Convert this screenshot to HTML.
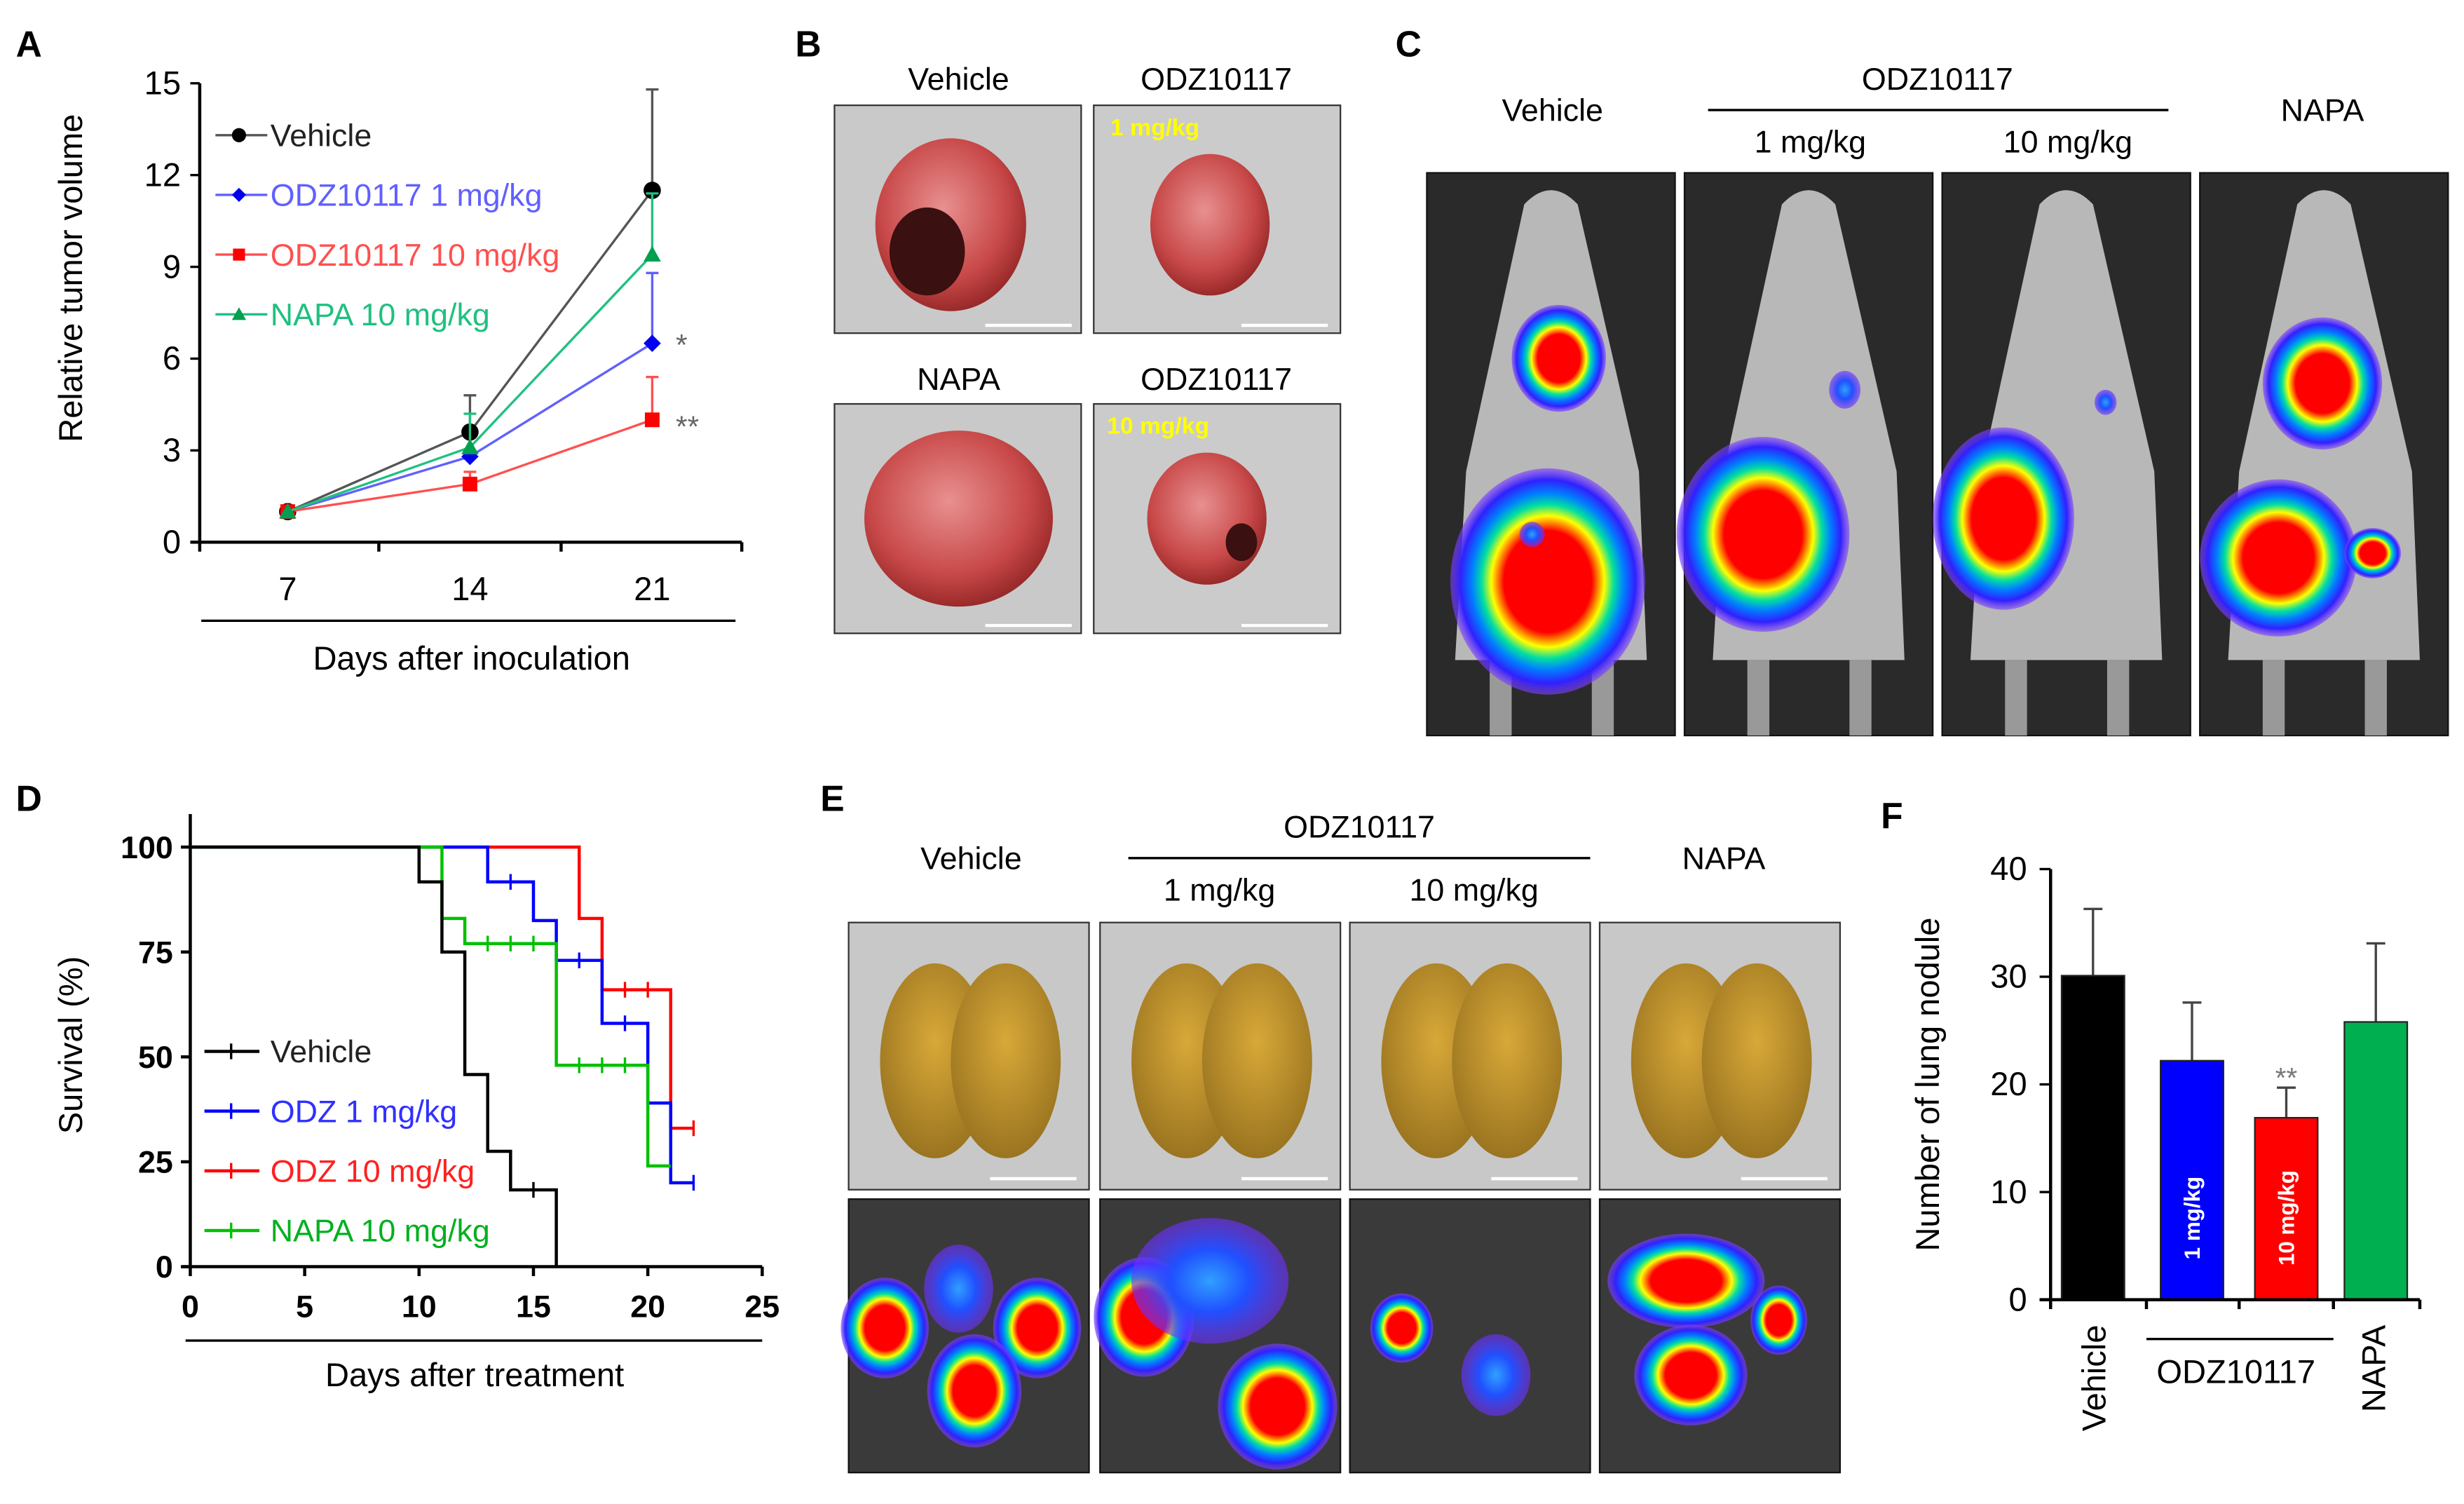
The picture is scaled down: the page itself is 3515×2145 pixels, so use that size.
<!DOCTYPE html>
<html><head><meta charset="utf-8"><style>
html,body{margin:0;padding:0;background:#fff}
svg{display:block;font-family:"Liberation Sans",Arial,sans-serif}
</style></head><body>
<svg id="fig" width="3515" height="2145" viewBox="0 0 1568 957" xmlns="http://www.w3.org/2000/svg">
<defs>
<radialGradient id="heat" cx="50%" cy="50%" r="50%">
<stop offset="0" stop-color="#ff0000"/><stop offset="0.45" stop-color="#ff0000"/><stop offset="0.58" stop-color="#ffff00"/><stop offset="0.68" stop-color="#00e0a0"/><stop offset="0.78" stop-color="#0080ff"/><stop offset="0.9" stop-color="#3020ff"/><stop offset="1" stop-color="#8040ff" stop-opacity="0.6"/></radialGradient>
<radialGradient id="heatblue" cx="50%" cy="50%" r="50%">
<stop offset="0" stop-color="#30a0ff"/><stop offset="0.5" stop-color="#2050ff"/><stop offset="1" stop-color="#7030ff" stop-opacity="0.6"/></radialGradient>
<radialGradient id="tumor" cx="45%" cy="40%" r="60%">
<stop offset="0" stop-color="#e89090"/><stop offset="0.7" stop-color="#c84848"/><stop offset="1" stop-color="#9a2a2a"/></radialGradient>
<radialGradient id="lung" cx="50%" cy="40%" r="60%">
<stop offset="0" stop-color="#d8a838"/><stop offset="1" stop-color="#9a7420"/></radialGradient>
</defs>

<g font-weight="bold" font-size="23" fill="#000">
<text x="10" y="36">A</text>
<text x="506" y="36">B</text>
<text x="888" y="36">C</text>
<text x="10" y="516">D</text>
<text x="522" y="516">E</text>
<text x="1197" y="527">F</text>
</g>

<g id="chartA"></g>
<g id="chartD"></g>
<g id="chartF"></g>

<g font-size="20" text-anchor="middle">
<text x="610" y="57">Vehicle</text>
<text x="774" y="57">ODZ10117</text>
<text x="610" y="248">NAPA</text>
<text x="774" y="248">ODZ10117</text>
<rect x="531" y="67" width="157" height="145" fill="#c9c9c9" stroke="#333"/>
<ellipse cx="605" cy="143" rx="48" ry="55" fill="url(#tumor)"/>
<ellipse cx="590" cy="160" rx="24" ry="28" fill="#3a1010"/>
<rect x="696" y="67" width="157" height="145" fill="#cbcbcb" stroke="#333"/>
<ellipse cx="770" cy="143" rx="38" ry="45" fill="url(#tumor)"/>
<text x="735" y="86" font-size="15" font-weight="bold" fill="#ffff00">1 mg/kg</text>
<rect x="531" y="257" width="157" height="146" fill="#c9c9c9" stroke="#333"/>
<ellipse cx="610" cy="330" rx="60" ry="56" fill="url(#tumor)"/>
<rect x="696" y="257" width="157" height="146" fill="#cbcbcb" stroke="#333"/>
<ellipse cx="768" cy="330" rx="38" ry="42" fill="url(#tumor)"/>
<ellipse cx="790" cy="345" rx="10" ry="12" fill="#3a1010"/>
<text x="737" y="276" font-size="15" font-weight="bold" fill="#ffff00">10 mg/kg</text>
<g stroke="#fff" stroke-width="2"><line x1="790" y1="207" x2="845" y2="207"/><line x1="627" y1="207" x2="682" y2="207"/><line x1="627" y1="398" x2="682" y2="398"/><line x1="790" y1="398" x2="845" y2="398"/></g>
</g>

<g font-size="20" text-anchor="middle">
<text x="988" y="77">Vehicle</text>
<text x="1233" y="57">ODZ10117</text>
<line x1="1087" y1="70" x2="1380" y2="70" stroke="#000" stroke-width="1.5"/>
<text x="1152" y="97">1 mg/kg</text>
<text x="1316" y="97">10 mg/kg</text>
<text x="1478" y="77">NAPA</text>
<g id="mice"></g>
</g>

<g font-size="20" text-anchor="middle">
<text x="618" y="553">Vehicle</text>
<text x="865" y="533">ODZ10117</text>
<line x1="718" y1="546" x2="1012" y2="546" stroke="#000" stroke-width="1.5"/>
<text x="776" y="573">1 mg/kg</text>
<text x="938" y="573">10 mg/kg</text>
<text x="1097" y="553">NAPA</text>
<g id="lungs"></g>
</g>
</svg>

<script>
var NS='http://www.w3.org/2000/svg';
function mk(parent,tag,attrs,text){var e=document.createElementNS(NS,tag);for(var k in attrs)e.setAttribute(k,attrs[k]);if(text!==undefined)e.textContent=text;parent.appendChild(e);return e;}

/* ---------- Panel A data ---------- */
var aDays=[7,14,21];
var aYTicks=[0,3,6,9,12,15];
var aVehicle=[1,3.6,11.5];
var aVehicleErr=[1,4.8,14.8];
var aOdz1=[1,2.8,6.5];
var aOdz1Err=[1,2.9,8.8];
var aOdz10=[1,1.9,4.0];
var aOdz10Err=[1,2.3,5.4];
var aNapa=[1,3.1,9.4];
var aNapaErr=[1,4.2,11.4];
var aNames=['Vehicle','ODZ10117 1 mg/kg','ODZ10117 10 mg/kg','NAPA 10 mg/kg'];

/* ---------- Panel D data ---------- */
var dXTicks=[0,5,10,15,20,25];
var dYTicks=[0,25,50,75,100];
var dVehT=[0,10,11,12,13,14,16];
var dVehS=[100,91.7,75,45.8,27.5,18.3,0];
var dVehCens=[15];
var dOdz1T=[0,13,15,16,18,20,21,22];
var dOdz1S=[100,91.7,82.5,73,58,39,20,20];
var dOdz1Cens=[14,17,19,22];
var dOdz10T=[0,17,18,21,22];
var dOdz10S=[100,83,66,33,33];
var dOdz10Cens=[19,20,22];
var dNapaT=[0,11,12,16,20,21];
var dNapaS=[100,83,77,48,24,24];
var dNapaCens=[13,14,15,17,18,19];

/* ---------- Panel F data ---------- */
var fCats=['Vehicle','1 mg/kg','10 mg/kg','NAPA'];
var fVals=[30.1,22.2,16.9,25.8];
var fErrs=[36.3,27.6,19.7,33.1];
var fYTicks=[0,10,20,30,40];

function drawMarker(g,type,x,y,c,r){
 var m;
 if(type==='circle')m=mk(g,'circle',{cx:x,cy:y,r:r,fill:c});
 else if(type==='diamond')m=mk(g,'polygon',{points:(x)+','+(y-r)+' '+(x+r)+','+y+' '+x+','+(y+r)+' '+(x-r)+','+y,fill:c});
 else if(type==='square')m=mk(g,'rect',{x:x-r*0.85,y:y-r*0.85,width:r*1.7,height:r*1.7,fill:c});
 else m=mk(g,'polygon',{points:x+','+(y-r)+' '+(x+r)+','+(y+r*0.8)+' '+(x-r)+','+(y+r*0.8),fill:c});
 
 
}

/* ===== Chart A ===== */
(function(){
var g=document.getElementById('chartA');
var x0=127,x1=472,yb=345,yt=53;
function X(d){return 183+(d-7)*(299-183)/7;}
function Y(v){return yb-(v/15)*(yb-yt);}
var ax=mk(g,'line',{x1:x0,y1:Y(15),x2:x0,y2:yb,stroke:'#000','stroke-width':2});

var xa=mk(g,'line',{x1:x0-6,y1:yb,x2:x1,y2:yb,stroke:'#000','stroke-width':2});

[127,241,357,472].forEach(function(t){mk(g,'line',{x1:t,y1:yb,x2:t,y2:yb+6,stroke:'#000','stroke-width':2});});
aYTicks.forEach(function(t){mk(g,'line',{x1:x0-6,y1:Y(t),x2:x0,y2:Y(t),stroke:'#000','stroke-width':1.5});
 var tl=mk(g,'text',{x:x0-12,y:Y(t)+7,'font-size':21,'text-anchor':'end'},String(t));
 });
aDays.forEach(function(d){var tl=mk(g,'text',{x:X(d),y:382,'font-size':21,'text-anchor':'middle'},String(d));
 });
mk(g,'line',{x1:128,y1:395,x2:468,y2:395,stroke:'#000','stroke-width':1.5});
var xt=mk(g,'text',{x:300,y:426,'font-size':21,'text-anchor':'middle'},'Days after inoculation');

var yt2=mk(g,'text',{x:0,y:0,'font-size':21,'text-anchor':'middle',transform:'translate(52,177) rotate(-90)'},'Relative tumor volume');

var series=[[aVehicle,aVehicleErr,'#000','#555','circle'],[aOdz1,aOdz1Err,'#0000ee','#6060ff','diamond'],[aOdz10,aOdz10Err,'#ff0000','#ff5050','square'],[aNapa,aNapaErr,'#00a050','#20c080','triangle']];
series.forEach(function(s,si){
 var vals=s[0],errs=s[1];
 vals.forEach(function(v,i){ if(errs[i]>v){var xx=X(aDays[i]);
  mk(g,'line',{x1:xx,y1:Y(v),x2:xx,y2:Y(errs[i]),stroke:s[3],'stroke-width':1.5});
  mk(g,'line',{x1:xx-4,y1:Y(errs[i]),x2:xx+4,y2:Y(errs[i]),stroke:s[3],'stroke-width':1.5});}});
 var pts=vals.map(function(v,i){return X(aDays[i])+','+Y(v);}).join(' ');
 var pl=mk(g,'polyline',{points:pts,fill:'none',stroke:s[3],'stroke-width':1.5});
 
 vals.forEach(function(v,i){drawMarker(g,s[4],X(aDays[i]),Y(v),s[2],5.5);});
 var ly=86+si*38;
 mk(g,'line',{x1:137,y1:ly,x2:170,y2:ly,stroke:s[3],'stroke-width':1.5});
 drawMarker(g,s[4],152,ly,s[2],4.5);
 var lt=mk(g,'text',{x:172,y:ly+7,'font-size':20,fill:s[2]==='#000'?'#222':s[3]},aNames[si]);
 
});
mk(g,'text',{x:430,y:226,'font-size':19,fill:'#666'},'*');
mk(g,'text',{x:430,y:278,'font-size':19,fill:'#666'},'**');
})();

/* ===== Chart D ===== */
(function(){
var g=document.getElementById('chartD');
function X(d){return 121+d*(485-121)/25;}
function Y(v){return 806-v*(806-539)/100;}
var ya=mk(g,'line',{x1:121,y1:518,x2:121,y2:806,stroke:'#000','stroke-width':2});

var xa=mk(g,'line',{x1:116,y1:806,x2:485,y2:806,stroke:'#000','stroke-width':2});

dYTicks.forEach(function(t){mk(g,'line',{x1:115,y1:Y(t),x2:121,y2:Y(t),stroke:'#000','stroke-width':2});
 var tl=mk(g,'text',{x:110,y:Y(t)+7,'font-size':20,'font-weight':'bold','text-anchor':'end'},String(t));
 });
dXTicks.forEach(function(t){mk(g,'line',{x1:X(t),y1:806,x2:X(t),y2:812,stroke:'#000','stroke-width':2});
 var tl=mk(g,'text',{x:X(t),y:838,'font-size':20,'font-weight':'bold','text-anchor':'middle'},String(t));
 });
mk(g,'line',{x1:118,y1:853,x2:485,y2:853,stroke:'#000','stroke-width':1.5});
var xt=mk(g,'text',{x:302,y:882,'font-size':21,'text-anchor':'middle'},'Days after treatment');

var yt=mk(g,'text',{x:0,y:0,'font-size':21,'text-anchor':'middle',transform:'translate(52,665) rotate(-90)'},'Survival (%)');

var ser=[[dVehT,dVehS,dVehCens,'#000','Vehicle','#222'],[dOdz1T,dOdz1S,dOdz1Cens,'#0000ff','ODZ 1 mg/kg','#3030ff'],[dOdz10T,dOdz10S,dOdz10Cens,'#ff0000','ODZ 10 mg/kg','#ff2020'],[dNapaT,dNapaS,dNapaCens,'#00c000','NAPA 10 mg/kg','#00b020']];
function sAt(T,S,t){var s=S[0];for(var i=0;i<T.length;i++){if(T[i]<=t)s=S[i];}return s;}
[2,1,3,0].forEach(function(si){var s=ser[si];var T=s[0],S=s[1];
 var d='M'+X(T[0])+','+Y(S[0]);
 for(var i=1;i<T.length;i++){d+=' H'+X(T[i])+' V'+Y(S[i]);}
 var p=mk(g,'path',{d:d,fill:'none',stroke:s[3],'stroke-width':2});
 
 s[2].forEach(function(c){var yy=Y(sAt(T,S,c));mk(g,'line',{x1:X(c),y1:yy-5,x2:X(c),y2:yy+5,stroke:s[3],'stroke-width':1.5});});
});
ser.forEach(function(s,si){var ly=669+si*38;
 mk(g,'line',{x1:130,y1:ly,x2:165,y2:ly,stroke:s[3],'stroke-width':2});
 mk(g,'line',{x1:147,y1:ly-5,x2:147,y2:ly+5,stroke:s[3],'stroke-width':1.5});
 var lt=mk(g,'text',{x:172,y:ly+7,'font-size':20,fill:s[5]},s[4]);
 });
})();

/* ===== Chart F ===== */
(function(){
var g=document.getElementById('chartF');
var cx=[1332,1395,1455,1512];var cols=['#000','#0000ff','#ff0000','#00b050'];
function Y(v){return 827-v*(827-553)/40;}
fCats.forEach(function(c,i){
 var ex=cx[i];
 mk(g,'line',{x1:ex,y1:Y(fVals[i]),x2:ex,y2:Y(fErrs[i]),stroke:'#444','stroke-width':1.5});
 mk(g,'line',{x1:ex-6,y1:Y(fErrs[i]),x2:ex+6,y2:Y(fErrs[i]),stroke:'#444','stroke-width':1.5});
 var r=mk(g,'rect',{x:ex-20,y:Y(fVals[i]),width:40,height:827-Y(fVals[i]),fill:cols[i],stroke:'#222','stroke-width':1});
 
 if(i===1||i===2){var t=mk(g,'text',{x:0,y:0,'font-size':14,'font-weight':'bold',fill:'#fff','text-anchor':'middle',transform:'translate('+(ex+5)+',775) rotate(-90)'},c);
  }
});
var ya=mk(g,'line',{x1:1305,y1:Y(40),x2:1305,y2:830,stroke:'#000','stroke-width':2});

var xa=mk(g,'line',{x1:1298,y1:827,x2:1540,y2:827,stroke:'#000','stroke-width':2});

[1305,1366,1425,1485,1540].forEach(function(t){mk(g,'line',{x1:t,y1:827,x2:t,y2:833,stroke:'#000','stroke-width':2});});
fYTicks.forEach(function(t){mk(g,'line',{x1:1298,y1:Y(t),x2:1305,y2:Y(t),stroke:'#000','stroke-width':1.5});
 var tl=mk(g,'text',{x:1290,y:Y(t)+7,'font-size':21,'text-anchor':'end'},String(t));
 });
var yt=mk(g,'text',{x:0,y:0,'font-size':21,'text-anchor':'middle',transform:'translate(1234,690) rotate(-90)'},'Number of lung nodule');

var v=mk(g,'text',{x:0,y:0,'font-size':21,'text-anchor':'end',transform:'translate(1340,843) rotate(-90)'},'Vehicle');

var n=mk(g,'text',{x:0,y:0,'font-size':21,'text-anchor':'end',transform:'translate(1518,843) rotate(-90)'},'NAPA');

mk(g,'line',{x1:1366,y1:852,x2:1485,y2:852,stroke:'#000','stroke-width':1.5});
var o=mk(g,'text',{x:1423,y:880,'font-size':21,'text-anchor':'middle'},'ODZ10117');

mk(g,'text',{x:1455,y:692,'font-size':18,fill:'#777','text-anchor':'middle'},'**');
})();

/* ===== Mice (Panel C) ===== */
(function(){
var g=document.getElementById('mice');
var xs=[908,1072,1236,1400];
var blobs=[
 [[985,370,62,72,'heat'],[992,228,30,34,'heat'],[975,340,8,8,'heatblue']],
 [[1122,340,55,62,'heat'],[1174,248,10,12,'heatblue']],
 [[1275,330,45,58,'heat'],[1340,256,7,8,'heatblue']],
 [[1478,244,38,42,'heat'],[1450,355,50,50,'heat'],[1510,352,18,16,'heat']]
];
xs.forEach(function(x,i){
 var r=mk(g,'rect',{x:x,y:110,width:158,height:358,fill:'#2a2a2a',stroke:'#111'});
 
 mk(g,'path',{d:'M'+(x+62)+',130 Q'+(x+79)+',112 '+(x+96)+',130 L'+(x+135)+',300 L'+(x+140)+',420 L'+(x+18)+',420 L'+(x+25)+',300 Z',fill:'#b8b8b8'});
 mk(g,'rect',{x:x+40,y:420,width:14,height:48,fill:'#999'});
 mk(g,'rect',{x:x+105,y:420,width:14,height:48,fill:'#999'});
 blobs[i].forEach(function(b){mk(g,'ellipse',{cx:b[0],cy:b[1],rx:b[2],ry:b[3],fill:'url(#'+b[4]+')'});});
});
})();

/* ===== Lungs (Panel E) ===== */
(function(){
var g=document.getElementById('lungs');
var xs=[540,700,859,1018];
var hb=[
 [[563,845,28,32,'heat'],[610,820,22,28,'heatblue'],[660,845,28,32,'heat'],[620,885,30,36,'heat']],
 [[728,838,32,38,'heat'],[770,815,50,40,'heatblue'],[813,895,38,40,'heat']],
 [[892,845,20,22,'heat'],[952,875,22,26,'heatblue']],
 [[1073,815,50,30,'heat'],[1076,875,36,32,'heat'],[1132,840,18,22,'heat']]
];
xs.forEach(function(x,i){
 var r=mk(g,'rect',{x:x,y:587,width:153,height:170,fill:'#c8c8c8',stroke:'#333'});
 
 mk(g,'ellipse',{cx:x+55,cy:675,rx:35,ry:62,fill:'url(#lung)'});
 mk(g,'ellipse',{cx:x+100,cy:675,rx:35,ry:62,fill:'url(#lung)'});
 mk(g,'line',{x1:x+90,y1:750,x2:x+145,y2:750,stroke:'#fff','stroke-width':2});
 var r2=mk(g,'rect',{x:x,y:763,width:153,height:174,fill:'#3a3a3a',stroke:'#111'});
 
 hb[i].forEach(function(b){mk(g,'ellipse',{cx:b[0],cy:b[1],rx:b[2],ry:b[3],fill:'url(#'+b[4]+')'});});
});
})();
</script>
</body></html>
